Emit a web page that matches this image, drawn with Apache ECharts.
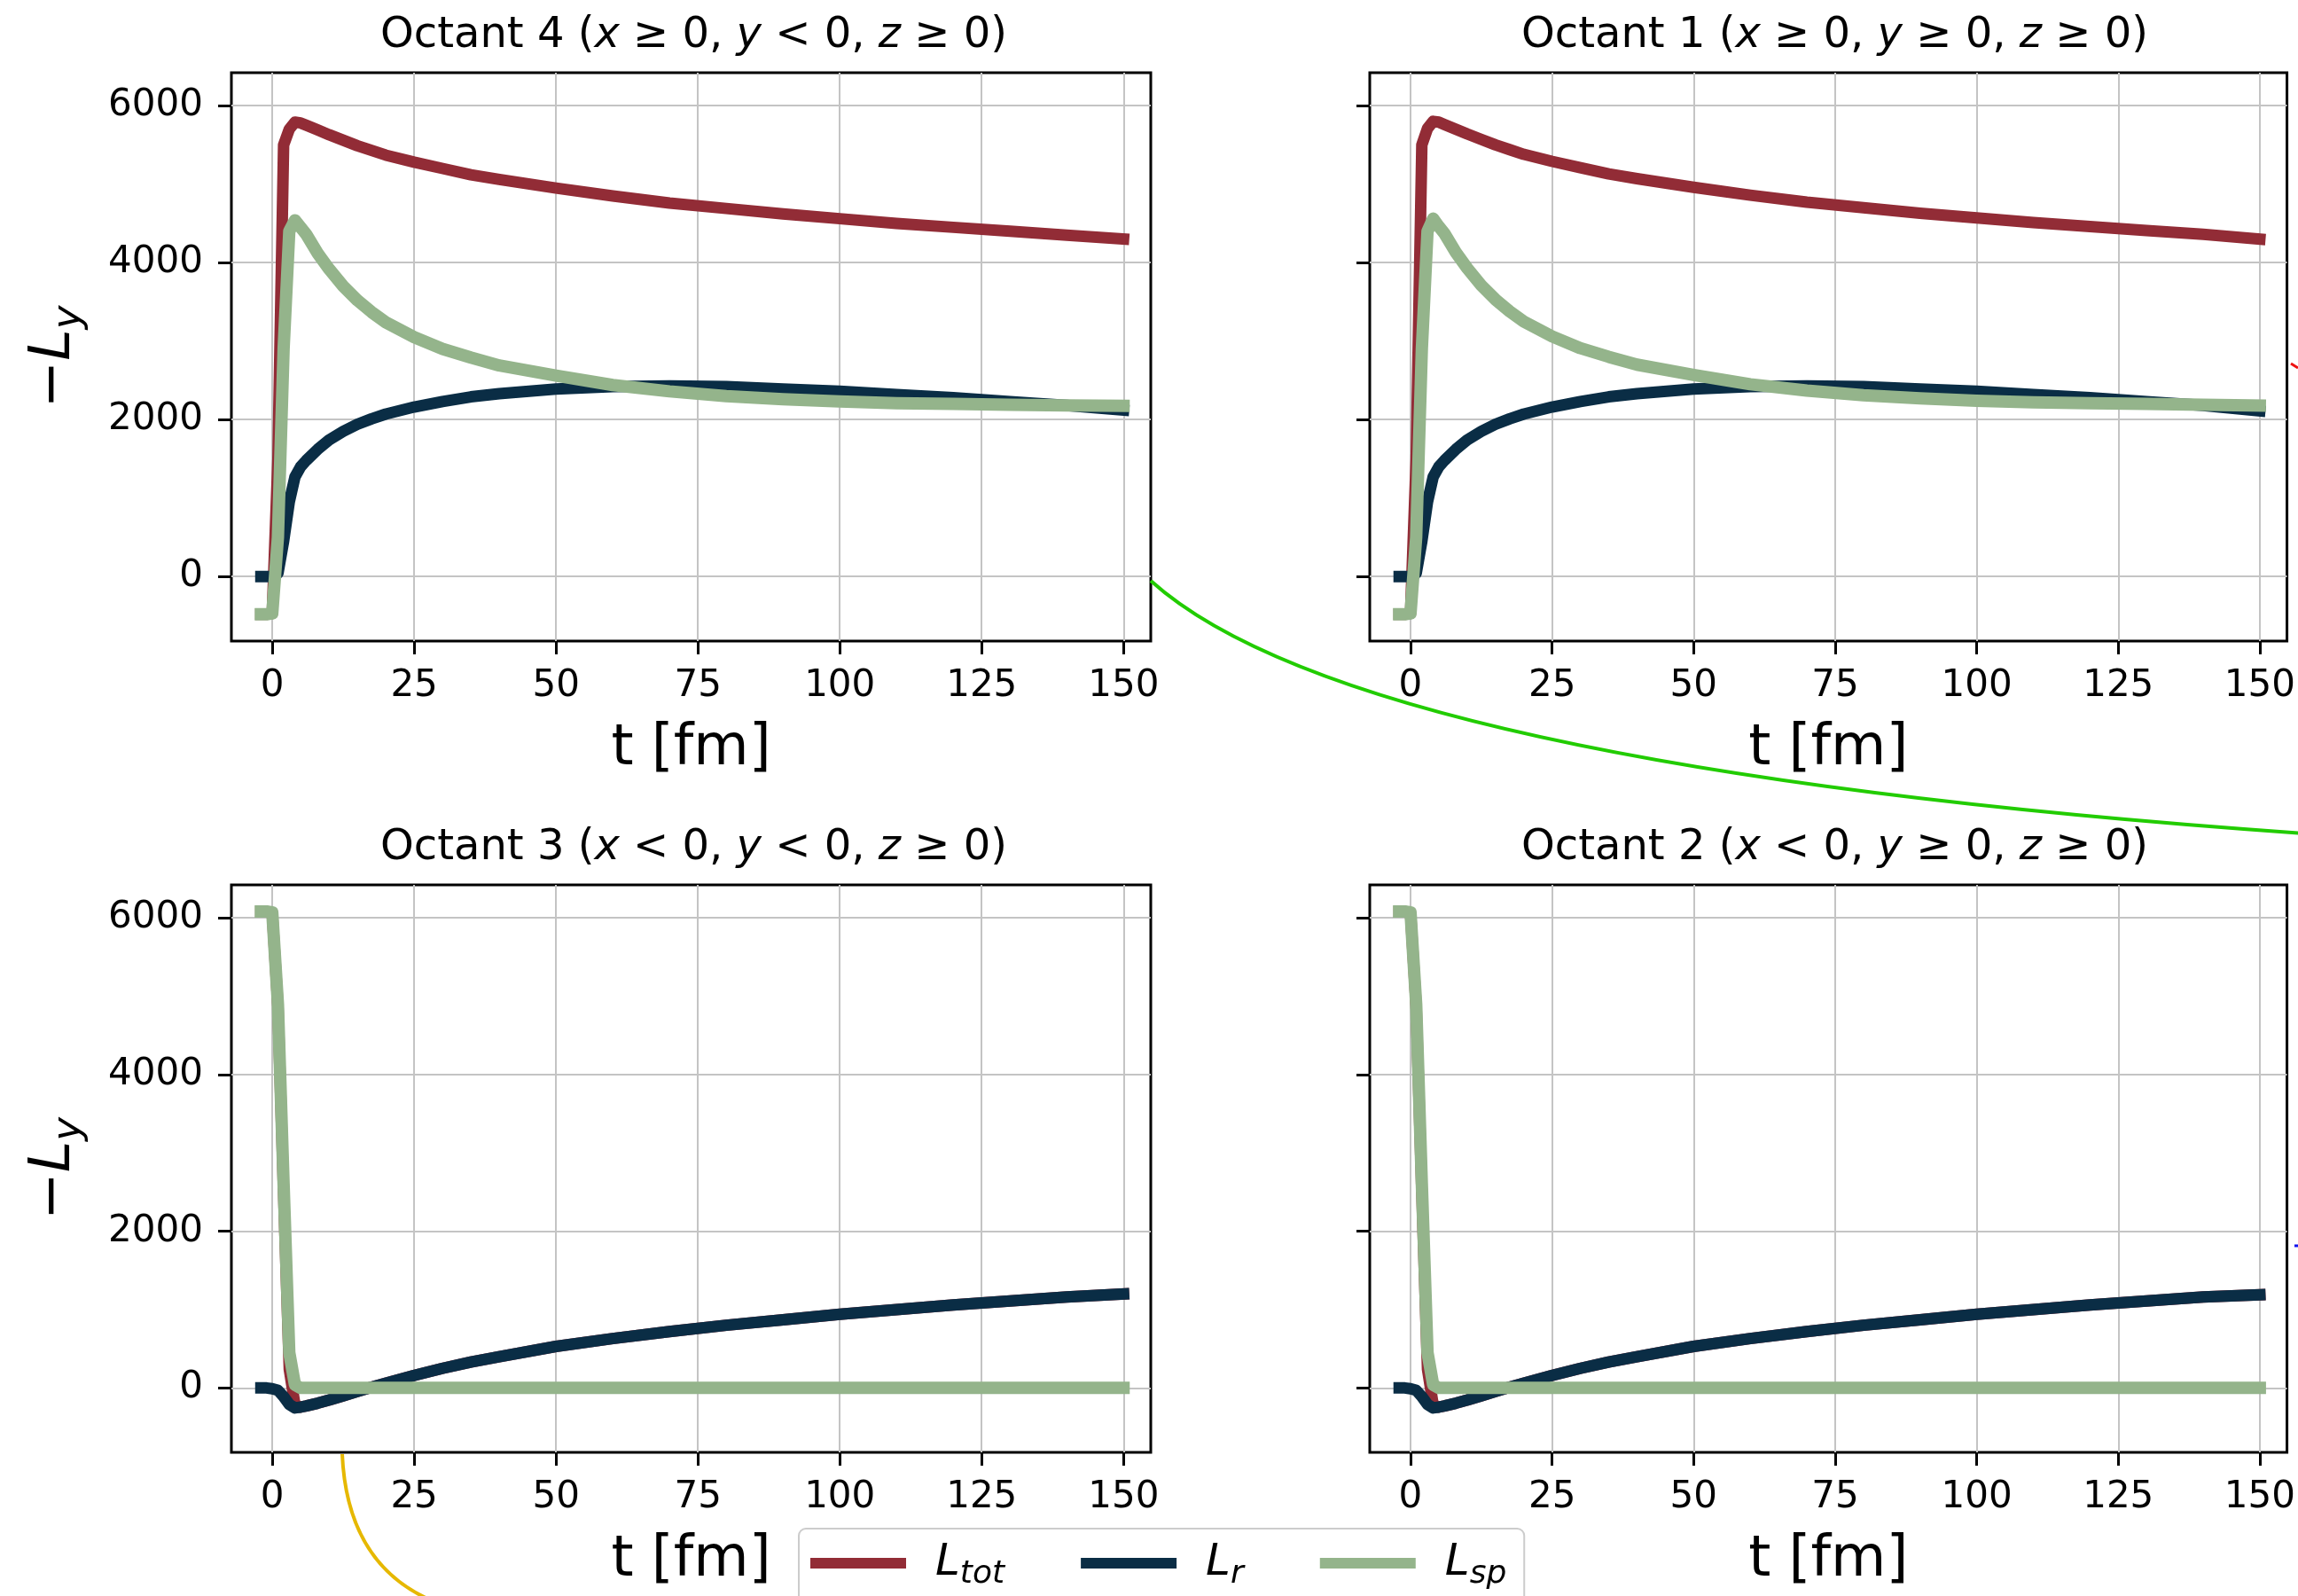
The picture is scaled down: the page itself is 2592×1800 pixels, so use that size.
<!DOCTYPE html>
<html><head><meta charset="utf-8">
<script src="https://cdn.jsdelivr.net/npm/echarts@6/dist/echarts.min.js"></script>
<style>html,body{margin:0;padding:0;background:#fff}#c{width:2592px;height:1800px}</style>
</head><body><div id="c"></div>
<script>
// ---------------- data ----------------
const tUpper = [-2,-1,0,1,2,3,4,5,6,8,10,12.5,15,17.5,20,25,30,35,40,50,60,70,80,90,100,110,120,130,140,150];
const tLower = [-2,-1,0,1,2,3,4,5,6,8,10,12.5,15,17.5,20,25,30,35,40,50,60,70,80,90,100,110,120,130,140,150];

// Octant 4 (x>=0, y<0, z>=0)
const oct4Tot = [-480,-480,-470,1500,5500,5700,5790,5780,5750,5690,5630,5560,5490,5430,5370,5280,5200,5120,5060,4950,4850,4760,4690,4620,4560,4500,4450,4400,4350,4300];
const oct4R   = [0,0,0,40,450,950,1270,1400,1480,1620,1740,1850,1940,2010,2070,2160,2230,2290,2330,2390,2420,2430,2420,2390,2360,2320,2280,2230,2180,2120];
const oct4Sp  = [-480,-480,-470,500,2900,4400,4540,4450,4360,4120,3920,3700,3520,3370,3240,3050,2900,2790,2690,2560,2440,2360,2300,2260,2230,2210,2200,2190,2180,2175];

// Octant 1 (x>=0, y>=0, z>=0)
const oct1Tot = [-480,-480,-470,1500,5500,5710,5800,5790,5760,5700,5640,5570,5500,5440,5380,5290,5210,5130,5070,4960,4860,4770,4700,4630,4570,4510,4460,4410,4360,4300];
const oct1R   = [0,0,0,40,450,950,1270,1400,1480,1620,1740,1850,1940,2010,2070,2160,2230,2290,2330,2390,2420,2430,2420,2390,2360,2320,2280,2230,2180,2110];
const oct1Sp  = [-480,-480,-470,500,2900,4400,4560,4460,4370,4130,3930,3710,3530,3380,3250,3060,2910,2800,2700,2570,2450,2370,2310,2270,2240,2220,2210,2200,2190,2180];

// Octant 3 (x<0, y<0, z>=0)
const oct3Tot = [6080,6080,6060,4870,2490,240,-215,-245,-230,-195,-155,-100,-45,10,60,160,250,330,400,530,630,720,800,870,940,1000,1060,1110,1160,1200];
const oct3R   = [0,0,-10,-30,-110,-210,-255,-245,-230,-195,-155,-100,-45,10,60,160,250,330,400,530,630,720,800,870,940,1000,1060,1110,1160,1200];
const oct3Sp  = [6080,6080,6070,4900,2600,450,40,0,0,0,0,0,0,0,0,0,0,0,0,0,0,0,0,0,0,0,0,0,0,0];

// Octant 2 (x<0, y>=0, z>=0)
const oct2Tot = [6080,6080,6060,4870,2490,240,-215,-245,-230,-195,-155,-100,-45,10,60,160,250,330,400,530,630,720,800,870,940,1000,1060,1110,1160,1190];
const oct2R   = [0,0,-10,-30,-110,-210,-255,-245,-230,-195,-155,-100,-45,10,60,160,250,330,400,530,630,720,800,870,940,1000,1060,1110,1160,1190];
const oct2Sp  = [6080,6080,6070,4900,2600,450,40,0,0,0,0,0,0,0,0,0,0,0,0,0,0,0,0,0,0,0,0,0,0,0];

const xTicks = [0,25,50,75,100,125,150];
const yTicks = [0,2000,4000,6000];
const seriesNames = ['Ltot','Lr','Lsp'];
const seriesSubs = {Ltot:'tot', Lr:'r', Lsp:'sp'};
const panelTitles = [
  ['Octant 4 (', ' ≥ 0, ', ' < 0, ', ' ≥ 0)'],
  ['Octant 1 (', ' ≥ 0, ', ' ≥ 0, ', ' ≥ 0)'],
  ['Octant 3 (', ' < 0, ', ' < 0, ', ' ≥ 0)'],
  ['Octant 2 (', ' < 0, ', ' ≥ 0, ', ' ≥ 0)']
];

// ---------------- styling / layout ----------------
const FONT = 'DejaVu Sans';
const COLORS = {Ltot:'#922c36', Lr:'#0a2d45', Lsp:'#94b48b'};
const WIDTHS = {Ltot:13, Lr:13, Lsp:14};
const grids = [
  {left:261, top:82, width:1037, height:641},
  {left:1545, top:82, width:1043, height:641},
  {left:261, top:998, width:1037, height:640},
  {left:1545, top:998, width:1043, height:640}
];
const panels = [
  {t:tUpper, data:[oct4Tot, oct4R, oct4Sp], yLabels:true},
  {t:tUpper, data:[oct1Tot, oct1R, oct1Sp], yLabels:false},
  {t:tLower, data:[oct3Tot, oct3R, oct3Sp], yLabels:true},
  {t:tLower, data:[oct2Tot, oct2R, oct2Sp], yLabels:false}
];

const titleRich = {
  n:{fontFamily:FONT, fontSize:48, color:'#000'},
  m:{fontFamily:FONT, fontSize:48, fontStyle:'italic', color:'#000'}
};
const nameRich = {
  n:{fontFamily:FONT, fontSize:64, color:'#000'},
  i:{fontFamily:FONT, fontSize:64, fontStyle:'italic', fontWeight:'normal', color:'#000'},
  s:{fontFamily:FONT, fontSize:45, fontStyle:'italic', color:'#000', padding:[34,0,0,0]}
};

const option = {
  animation:false,
  backgroundColor:'#ffffff',
  title: grids.map((g,i)=>{
    const p = panelTitles[i];
    return {
      text:'{n|'+p[0]+'}{m|x}{n|'+p[1]+'}{m|y}{n|'+p[2]+'}{m|z}{n|'+p[3]+'}',
      left:g.left + g.width/2 - 2, top:g.top - 70, textAlign:'center',
      textStyle:{rich:titleRich, fontFamily:FONT, fontSize:48, fontWeight:'normal', color:'#000'}
    };
  }),
  grid: grids.map(g=>({left:g.left, top:g.top, width:g.width, height:g.height, show:true,
      borderColor:'#000', borderWidth:3, backgroundColor:'transparent', containLabel:false})),
  xAxis: grids.map((g,i)=>({
    type:'value', gridIndex:i, min:-7.2, max:154.8, position:'bottom',
    axisLine:{show:false, onZero:false},
    axisTick:{show:true, inside:false, length:15, lineStyle:{color:'#000', width:3}, customValues:xTicks},
    axisLabel:{show:true, customValues:xTicks, fontFamily:FONT, fontSize:42, color:'#000', margin:30,
      formatter:(v)=>String(v)},
    splitLine:{show:true, lineStyle:{color:'#c4c4c4', width:2}},
    name:'t [fm]', nameLocation:'middle', nameGap:90,
    nameTextStyle:{fontFamily:FONT, fontSize:64, color:'#000'}
  })),
  yAxis: grids.map((g,i)=>({
    type:'value', gridIndex:i, min:-822, max:6420, position:'left',
    axisLine:{show:false, onZero:false},
    axisTick:{show:true, inside:false, length:15, lineStyle:{color:'#000', width:3}, customValues:yTicks},
    axisLabel:{show:panels[i].yLabels, customValues:yTicks, fontFamily:FONT, fontSize:42, color:'#000', margin:32,
      formatter:(v)=>String(v)},
    splitLine:{show:true, lineStyle:{color:'#c4c4c4', width:2}},
    name: panels[i].yLabels ? '{n|−}{i|L}{s|y}' : '',
    nameLocation:'middle', nameRotate:90, nameGap:160,
    nameTextStyle:{rich:nameRich, fontFamily:FONT, fontSize:64, color:'#000'}
  })),
  legend:{
    show:true, left:901, top:1724, orient:'horizontal',
    data:seriesNames, icon:'rect', itemWidth:108, itemHeight:12, itemGap:86,
    padding:[14,20,14,13],
    backgroundColor:'rgba(255,255,255,0.8)', borderColor:'#cccccc', borderWidth:2, borderRadius:8,
    formatter:(name)=>'{i|L}{s|'+seriesSubs[name]+'}',
    textStyle:{padding:[0,0,0,28], rich:{
      i:{fontFamily:FONT, fontSize:50, fontStyle:'italic', color:'#000'},
      s:{fontFamily:FONT, fontSize:36, fontStyle:'italic', color:'#000', padding:[26,0,0,0]}
    }}
  },
  graphic:[
    {type:'bezierCurve', silent:true, z:100,
      shape:{x1:1298, y1:655, x2:2600, y2:940, cpx1:1532, cpy1:866},
      style:{stroke:'#22cc00', lineWidth:4, fill:null}},
    {type:'bezierCurve', silent:true, z:100,
      shape:{x1:386, y1:1640, x2:505, y2:1812, cpx1:392, cpy1:1775},
      style:{stroke:'#e6b800', lineWidth:4, fill:null}},
    {type:'line', silent:true, z:100, shape:{x1:2584, y1:410, x2:2592, y2:415}, style:{stroke:'#ee1111', lineWidth:3}},
    {type:'line', silent:true, z:100, shape:{x1:2588, y1:1405, x2:2592, y2:1405}, style:{stroke:'#1111ee', lineWidth:3}}
  ],
  series: []
};

panels.forEach((p,i)=>{
  seriesNames.forEach((nm,k)=>{
    option.series.push({
      type:'line', name:nm, xAxisIndex:i, yAxisIndex:i,
      data:p.t.map((x,j)=>[x, p.data[k][j]]),
      showSymbol:false, symbol:'none', smooth:false, clip:true,
      color:COLORS[nm],
      lineStyle:{color:COLORS[nm], width:WIDTHS[nm], cap:'square', join:'round'},
      emphasis:{disabled:true}, z:2+k
    });
  });
});

const chart = echarts.init(document.getElementById('c'), null, {renderer:'canvas', width:2592, height:1800});
chart.setOption(option);
</script>
</body></html>
